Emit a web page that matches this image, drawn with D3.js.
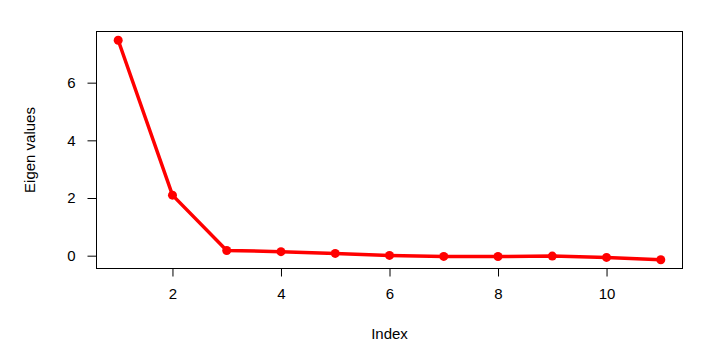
<!DOCTYPE html>
<html lang="en">
	<head>
		<meta charset="utf-8">
		<title>Eigen values</title>
		<script type="text/javascript" src="https://cdn.jsdelivr.net/npm/d3@7"></script>
		<style type="text/css">
			body { margin: 0; background: #fff; }
			svg text { font-family: "Liberation Sans", Arial, sans-serif; font-size: 15px; fill: #000; }
		</style>
	</head>
	<body>
		<script type="text/javascript">

			// data
			var index = [1, 2, 3, 4, 5, 6, 7, 8, 9, 10, 11];
			var eigenValues = [7.47, 2.10, 0.18, 0.14, 0.08, 0.01, -0.025, -0.03, -0.015, -0.06, -0.14];
			var xTicks = [2, 4, 6, 8, 10];
			var yTicks = [0, 2, 4, 6];

			var w = 715;
			var h = 363;
			var box = { left: 96.5, right: 682.5, top: 31.5, bottom: 268.5 };

			var svg = d3.select("body")
						.append("svg")
						.attr("width", w)
						.attr("height", h);

			// R style 4% padding on both axes
			var xMin = d3.min(index), xMax = d3.max(index);
			var xPad = (xMax - xMin) * 0.04;
			var x = d3.scaleLinear()
					  .domain([xMin - xPad, xMax + xPad])
					  .range([box.left, box.right]);

			var yMin = d3.min(eigenValues), yMax = d3.max(eigenValues);
			var yPad = (yMax - yMin) * 0.04;
			var y = d3.scaleLinear()
					  .domain([yMin - yPad, yMax + yPad])
					  .range([box.bottom, box.top]);

			// plot box
			svg.append("rect")
			   .attr("x", box.left)
			   .attr("y", box.top)
			   .attr("width", box.right - box.left)
			   .attr("height", box.bottom - box.top)
			   .attr("fill", "none")
			   .attr("stroke", "#000")
			   .attr("stroke-width", 1);

			// axes
			var xAxis = d3.axisBottom(x).tickValues(xTicks).tickSize(8).tickPadding(12).tickFormat(d3.format("d"));
			var gx = svg.append("g")
						.attr("transform", "translate(0," + box.bottom + ")")
						.call(xAxis);
			gx.select(".domain")
			  .attr("d", "M" + x(xTicks[0]) + ",0H" + x(xTicks[xTicks.length - 1]))
			  .attr("stroke", "#000");

			var yAxis = d3.axisLeft(y).tickValues(yTicks).tickSize(9).tickPadding(10).tickFormat(d3.format("d"));
			var gy = svg.append("g")
						.attr("transform", "translate(" + box.left + ",0)")
						.call(yAxis);
			gy.select(".domain")
			  .attr("d", "M0," + y(yTicks[0]) + "V" + y(yTicks[yTicks.length - 1]))
			  .attr("stroke", "#000");
			gy.selectAll(".tick text").attr("text-anchor", "middle").attr("x", -25);

			svg.selectAll(".tick text").style("font-family", "'Liberation Sans', Arial, sans-serif").style("font-size", "15px");

			// axis titles
			svg.append("text")
			   .attr("x", (box.left + box.right) / 2)
			   .attr("y", 339)
			   .attr("text-anchor", "middle")
			   .text("Index");

			svg.append("text")
			   .attr("transform", "translate(35," + ((box.top + box.bottom) / 2) + ") rotate(-90)")
			   .attr("text-anchor", "middle")
			   .text("Eigen values");

			// line and points
			var line = d3.line()
						 .x(function(d, i) { return x(index[i]); })
						 .y(function(d) { return y(d); });

			svg.append("path")
			   .datum(eigenValues)
			   .attr("d", line)
			   .attr("fill", "none")
			   .attr("stroke", "#ff0000")
			   .attr("stroke-width", 3.5);

			svg.selectAll("circle.pt")
			   .data(eigenValues)
			   .enter()
			   .append("circle")
			   .attr("class", "pt")
			   .attr("cx", function(d, i) { return x(index[i]); })
			   .attr("cy", function(d) { return y(d); })
			   .attr("r", 4.5)
			   .attr("fill", "#ff0000");
		</script>
	</body>
</html>
